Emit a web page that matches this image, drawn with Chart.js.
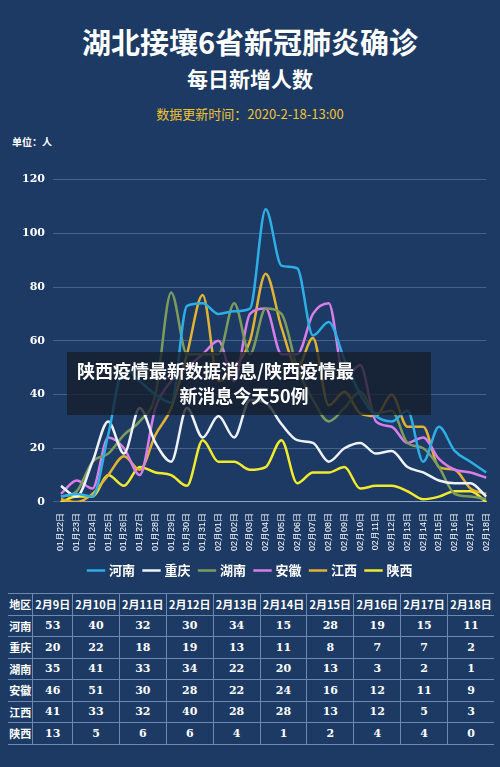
<!DOCTYPE html>
<html><head><meta charset="utf-8">
<script src="https://cdn.jsdelivr.net/npm/chart.js@4"></script>
<style>
body{margin:0;width:500px;height:767px;background:#1c3a63;font-family:"Noto Sans CJK SC",sans-serif;color:#fff;position:relative;overflow:hidden}
.t1{position:absolute;top:20px;width:100%;text-align:center;font-size:29px;font-weight:bold}
.t2{position:absolute;top:63px;width:100%;text-align:center;font-size:21px;font-weight:bold}
.t3{position:absolute;top:104px;width:100%;text-align:center;font-size:13px;color:#f2c230}
.unit{position:absolute;top:134px;left:12px;font-size:10px;font-weight:bold}
#cw{position:absolute;top:165px;left:0;width:500px;height:422px}
table{position:absolute;top:593px;left:8px;width:486px;border-collapse:collapse;font-size:11px;font-weight:bold}
td{border-bottom:1px solid #6c8ab0;border-left:1px solid #6c8ab0;text-align:center;height:20.5px;padding:0;font-family:"DejaVu Serif","Noto Sans CJK SC",serif}
td:first-child{border-left:none;font-family:"Noto Sans CJK SC"}
tr:first-child td{border-top:1px solid #6c8ab0}
.ov{position:absolute;left:67px;top:352px;width:364px;height:63px;background:rgba(22,30,42,0.78);font-size:18px;font-weight:bold;line-height:25px;padding-top:6px;box-sizing:border-box}
</style></head><body>
<div class="t1">湖北接壤6省新冠肺炎确诊</div>
<div class="t2">每日新增人数</div>
<div class="t3">数据更新时间：2020-2-18-13:00</div>
<div class="unit">单位：人</div>
<div id="cw"><canvas id="c"></canvas></div>
<table id="tb"></table>
<div class="ov"><div style="padding-left:10px">陕西疫情最新数据消息/陕西疫情最</div><div style="text-align:center;padding-right:10px">新消息今天50例</div></div>
<script>
const dates=["01月22日","01月23日","01月24日","01月25日","01月26日","01月27日","01月28日","01月29日","01月30日","01月31日","02月01日","02月02日","02月03日","02月04日","02月05日","02月06日","02月07日","02月08日","02月09日","02月10日","02月11日","02月12日","02月13日","02月14日","02月15日","02月16日","02月17日","02月18日"];
const names=["河南","重庆","湖南","安徽","江西","陕西"];
const henan=[2,3,2,25,50,45,40,37,73,74,70,71,72,109,88,87,62,67,53,40,32,30,34,15,28,19,15,11];
const chongqing=[6,2,15,30,18,35,22,15,35,24,32,24,38,37,29,23,22,15,20,22,18,19,13,11,8,7,7,2];
const hunan=[2,4,15,18,25,30,40,78,55,55,55,74,55,72,70,50,38,30,35,41,33,34,22,20,13,3,2,1];
const anhui=[3,8,5,24,20,10,35,45,50,55,60,45,70,72,55,55,70,74,46,51,30,28,22,24,16,12,11,9];
const jiangxi=[1,0,3,10,17,12,25,35,55,77,45,50,60,85,65,50,61,36,41,33,32,40,28,28,13,12,5,3];
const shaanxi=[0,2,2,10,6,13,11,10,6,23,15,15,12,13,23,7,11,11,13,5,6,6,4,1,2,4,4,0];
const colors=["#2eaee6","#eef2f7","#7d9c5c","#d77ee8","#e2b233","#f2ea2e"];
const yTicks=[0,20,40,60,80,100,120];
const tableDates=["2月9日","2月10日","2月11日","2月12日","2月13日","2月14日","2月15日","2月16日","2月17日","2月18日"];
const series=[henan,chongqing,hunan,anhui,jiangxi,shaanxi];
let h='<tr><td>地区</td>'+tableDates.map(d=>'<td style="font-family:Noto Sans CJK SC">'+d+'</td>').join('')+'</tr>';
series.forEach((s,i)=>{h+='<tr><td>'+names[i]+'</td>'+s.slice(18).map(v=>'<td>'+v+'</td>').join('')+'</tr>';});
document.getElementById('tb').innerHTML=h;
new Chart(document.getElementById('c'),{type:'line',
data:{labels:dates,datasets:series.map((s,i)=>({label:names[i],data:s,borderColor:colors[i],backgroundColor:colors[i],borderWidth:2.5,pointRadius:0,tension:0.4,cubicInterpolationMode:'monotone'}))},
options:{responsive:true,maintainAspectRatio:false,animation:false,
layout:{padding:{left:14,right:12,top:6}},
plugins:{legend:{position:'bottom',labels:{color:'#fff',usePointStyle:true,pointStyle:'line',boxWidth:22,padding:10,font:{size:13,weight:'bold',family:'Noto Sans CJK SC'}}},tooltip:{enabled:false}},
scales:{x:{ticks:{color:'#fff',maxRotation:90,minRotation:90,font:{size:9},autoSkip:false},grid:{display:false},border:{color:'#8fa6c4'}},
y:{min:0,max:120,afterBuildTicks:a=>{a.ticks=yTicks.map(v=>({value:v}))},ticks:{color:'#fff',font:{size:11,weight:'bold',family:'DejaVu Serif'},padding:8},grid:{color:'rgba(150,175,210,0.35)'},border:{display:false}}}}});
</script></body></html>
